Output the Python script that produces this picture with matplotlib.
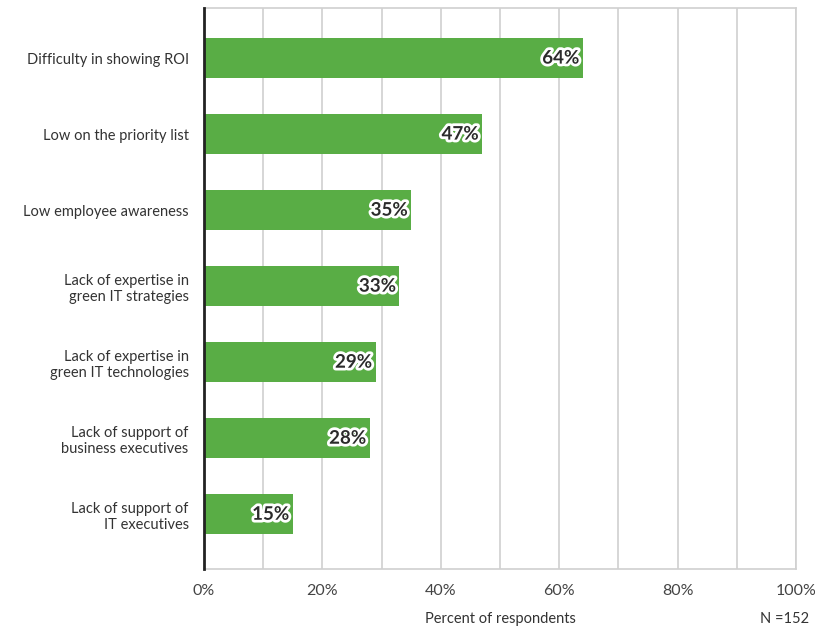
import matplotlib.pyplot as plt
import matplotlib.patheffects as pe
import numpy as np

categories = [
    "Difficulty in showing ROI",
    "Low on the priority list",
    "Low employee awareness",
    "Lack of expertise in\ngreen IT strategies",
    "Lack of expertise in\ngreen IT technologies",
    "Lack of support of\nbusiness executives",
    "Lack of support of\nIT executives",
]
values = [64, 47, 35, 33, 29, 28, 15]
xticks = [0, 20, 40, 60, 80, 100]

plt.rcParams['font.family'] = ['Lato', 'DejaVu Sans']

fig = plt.figure(figsize=(8.15, 6.34), dpi=100)
ax = fig.add_axes([0.2503, 0.1025, 0.7264, 0.885])

y = np.arange(len(categories))
ax.barh(y, values, height=0.53, color="#59ad45", zorder=3)

# value labels with white halo, inside the bar end
for yi, v in zip(y, values):
    ax.text(v - 0.6, yi, f"{v}%", ha="right", va="center", fontsize=13.5,
            fontweight="bold", color="#2b2b2b", zorder=4,
            path_effects=[pe.withStroke(linewidth=4, foreground="white")])

ax.set_xlim(0, 100)
ax.set_ylim(6.72, -0.66)
ax.set_xticks(xticks)
ax.set_xticks(np.arange(10, 100, 20), minor=True)
ax.xaxis.grid(True, which="both", color="#d0d0d0", linewidth=1.2, zorder=0)
ax.set_xticklabels([f"{t}%" for t in xticks], fontsize=11.5, color="#444444")
ax.tick_params(axis="x", which="both", length=0, pad=11)
ax.set_yticks(y)
ax.set_yticklabels(categories, fontsize=10.5, color="#333333")
ax.tick_params(axis="y", length=0, pad=11)

for s in ["top", "right", "bottom"]:
    ax.spines[s].set_color("#d0d0d0")
    ax.spines[s].set_linewidth(1.2)
ax.spines["left"].set_color("#222222")
ax.spines["left"].set_linewidth(2)
ax.spines["left"].set_zorder(5)

fig.text(0.614, 0.012, "Percent of respondents", ha="center", va="bottom",
         fontsize=10.5, color="#333333")
fig.text(0.993, 0.012, "N =152", ha="right", va="bottom",
         fontsize=10.5, color="#333333")

fig.savefig("out.png", dpi=100)
